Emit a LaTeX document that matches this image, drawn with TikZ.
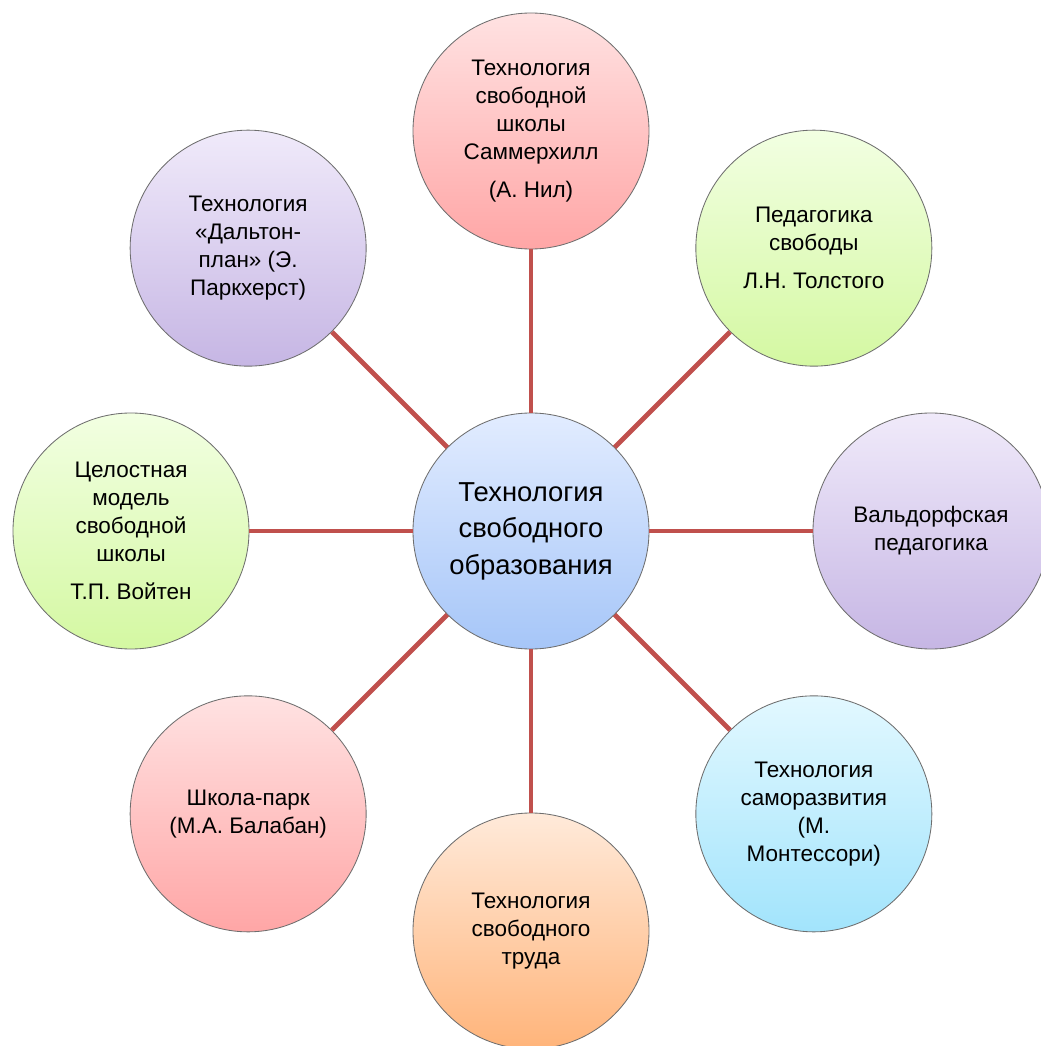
\documentclass[tikz,border=0pt]{standalone}
\usepackage{fontspec}
\setmainfont{Liberation Sans}
\usepackage{xcolor}
\usetikzlibrary{positioning}

\definecolor{linkred}{RGB}{192,80,77}
\definecolor{rimgray}{RGB}{110,110,110}

\begin{document}
\begin{tikzpicture}[
    bubble/.style={circle, draw=rimgray, line width=0.6pt, minimum size=5.9cm,
      inner sep=0pt, align=center, font=\fontsize{16}{20}\selectfont},
    hub/.style={bubble, font=\fontsize{19.5}{26}\selectfont,
      top color={rgb,255:red,226;green,236;blue,255},
      bottom color={rgb,255:red,166;green,198;blue,248}},
    rosy/.style={top color={rgb,255:red,255;green,226;blue,226},
      bottom color={rgb,255:red,255;green,166;blue,166}},
    lime/.style={top color={rgb,255:red,242;green,255;blue,226},
      bottom color={rgb,255:red,212;green,248;blue,162}},
    lilac/.style={top color={rgb,255:red,240;green,234;blue,250},
      bottom color={rgb,255:red,198;green,182;blue,228}},
    sky/.style={top color={rgb,255:red,226;green,248;blue,255},
      bottom color={rgb,255:red,162;green,228;blue,252}},
    peach/.style={top color={rgb,255:red,255;green,234;blue,218},
      bottom color={rgb,255:red,255;green,180;blue,122}},
    link/.style={linkred, line width=3.5pt}
  ]
  \useasboundingbox (-13.275,-12.875) rectangle (12.725,13.275);

  \node[hub] (C) at (0,0) {Технология\\свободного\\образования};
  \node[bubble, rosy] (N) at (90:10) {Технология\\свободной\\школы\\Саммерхилл\\[7pt](А. Нил)};
  \node[bubble, lime] (NE) at (45:10) {Педагогика\\свободы\\[7pt]Л.Н. Толстого};
  \node[bubble, lilac] (E) at (0:10) {Вальдорфская\\педагогика};
  \node[bubble, sky] (SE) at (-45:10) {Технология\\саморазвития\\(М.\\Монтессори)};
  \node[bubble, peach] (S) at (-90:10) {Технология\\свободного\\труда};
  \node[bubble, rosy] (SW) at (-135:10) {Школа-парк\\(М.А. Балабан)};
  \node[bubble, lime] (W) at (180:10) {Целостная\\модель\\свободной\\школы\\[7pt]Т.П. Войтен};
  \node[bubble, lilac] (NW) at (135:10) {Технология\\«Дальтон-\\план» (Э.\\Паркхерст)};

  \foreach \n in {N,NE,E,SE,S,SW,W,NW}
    \draw[link] (C) -- (\n);
\end{tikzpicture}
\end{document}
